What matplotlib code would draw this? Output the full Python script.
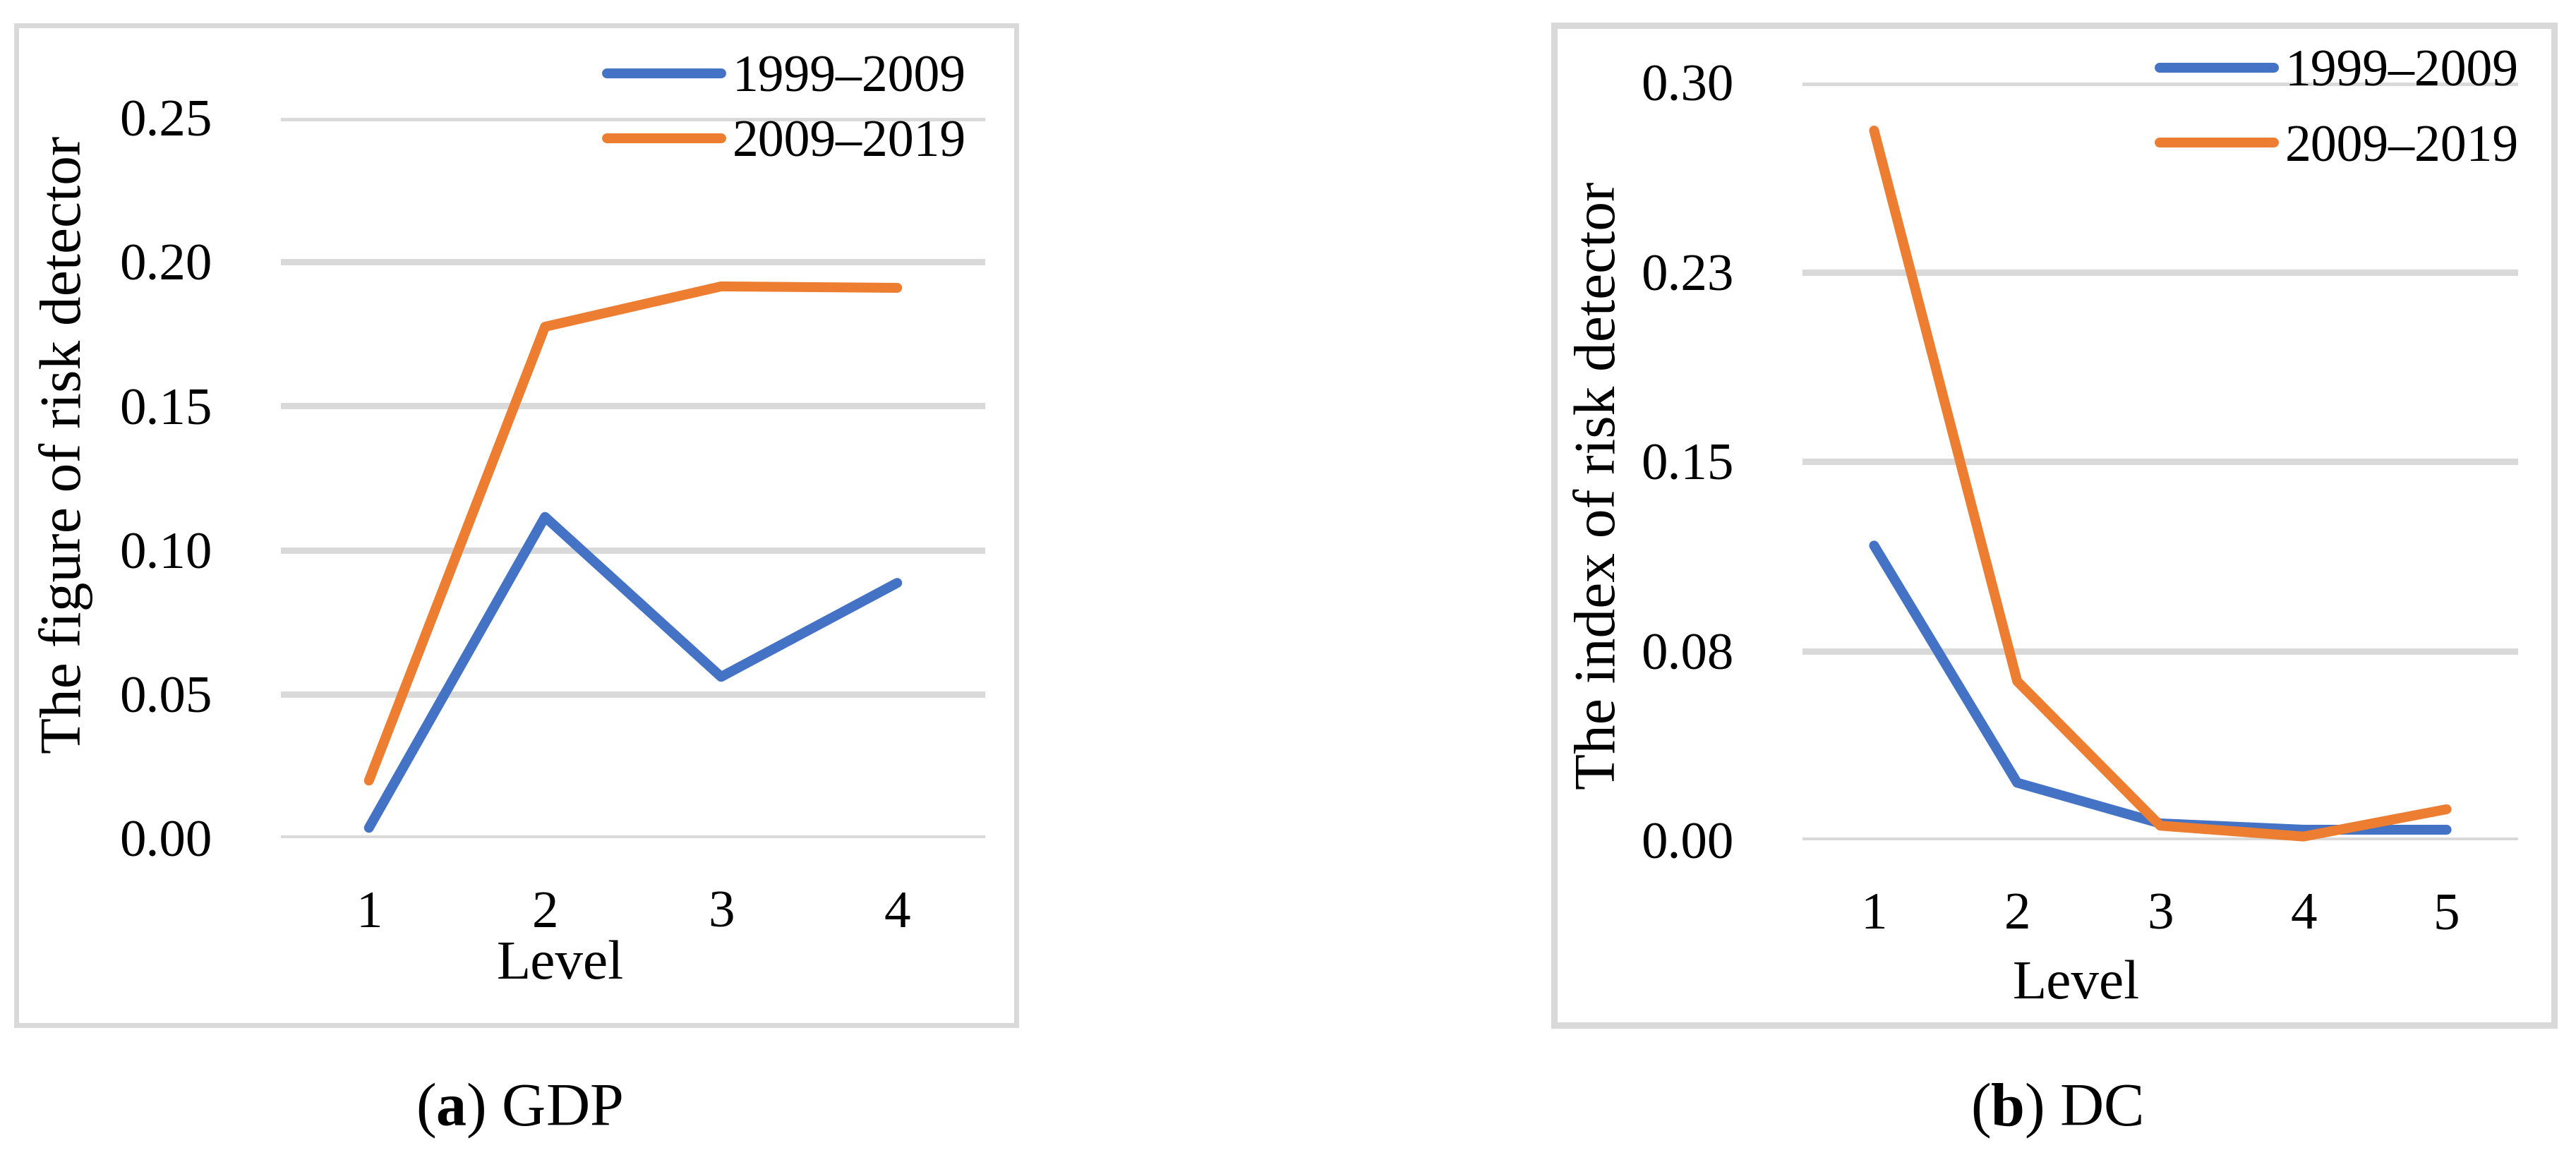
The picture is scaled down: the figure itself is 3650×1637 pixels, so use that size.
import matplotlib

matplotlib.use("Agg")
import matplotlib.pyplot as plt
from matplotlib.patches import Rectangle

W, H = 3650, 1637
DPI = 100

# data
levels_gdp = [1, 2, 3, 4]
gdp_1999_2009 = [0.0036, 0.1115, 0.0560, 0.0886]
gdp_2009_2019 = [0.0200, 0.1775, 0.1915, 0.1910]

levels_dc = [1, 2, 3, 4, 5]
dc_1999_2009 = [0.1167, 0.0228, 0.0067, 0.0042, 0.0042]
dc_2009_2019 = [0.2810, 0.0630, 0.0058, 0.0015, 0.0123]

series_labels = ["1999–2009", "2009–2019"]

gdp_yticks = [0.0, 0.05, 0.10, 0.15, 0.20, 0.25]
gdp_yticklabels = ["0.00", "0.05", "0.10", "0.15", "0.20", "0.25"]
dc_yticks = [0.0, 0.075, 0.15, 0.225, 0.30]
dc_yticklabels = ["0.00", "0.08", "0.15", "0.23", "0.30"]

BLUE = "#4472C4"
ORANGE = "#ED7D31"
GRAY = "#D9D9D9"
FS = 54

plt.rcParams["font.family"] = ["Liberation Serif", "DejaVu Serif"]
plt.rcParams["mathtext.fontset"] = "custom"
plt.rcParams["mathtext.rm"] = "Liberation Serif"
plt.rcParams["mathtext.bf"] = "Liberation Serif:bold"


def px(v):
    return v * 72 / DPI


def add_axes_px(fig, left, top, right, bottom):
    return fig.add_axes([left / W, 1 - bottom / H, (right - left) / W, (bottom - top) / H])


def add_frame(fig, x0, y0, x1, y1, lw):
    fig.patches.append(
        Rectangle((x0 / W, 1 - y1 / H), (x1 - x0) / W, (y1 - y0) / H,
                  transform=fig.transFigure, fill=False, ec=GRAY, lw=px(lw))
    )


def draw_panel(fig, box, levels, s1, s2, yticks, yticklabels, ylabel,
               xlabel_x, xlabel_y, ylabel_x, ylabel_y, leg_right, leg_top, leg_spacing):
    left, top, right, bottom = box
    ax = add_axes_px(fig, left, top, right, bottom)
    ax.plot(levels, s1, color=BLUE, lw=px(14), solid_capstyle="round",
            solid_joinstyle="round", label=series_labels[0], clip_on=False, zorder=3)
    ax.plot(levels, s2, color=ORANGE, lw=px(14), solid_capstyle="round",
            solid_joinstyle="round", label=series_labels[1], clip_on=False, zorder=4)
    ax.set_xlim(levels[0] - 0.5, levels[-1] + 0.5)
    ax.set_ylim(yticks[0], yticks[-1])
    ax.set_xticks(levels)
    ax.set_xticklabels([str(v) for v in levels])
    ax.set_yticks(yticks)
    ax.set_yticklabels(yticklabels)
    ax.tick_params(axis="both", length=0, labelsize=FS)
    ax.tick_params(axis="y", pad=px(98))
    ax.tick_params(axis="x", pad=px(74))
    ax.grid(axis="y", color=GRAY, lw=px(9))
    ax.set_axisbelow(True)
    for s in ax.spines.values():
        s.set_visible(False)
    ax.patch.set_alpha(0)

    h = bottom - top
    w = right - left
    ax.set_xlabel("Level", fontsize=57, va="center")
    ax.xaxis.set_label_coords((xlabel_x - left) / w, (bottom - xlabel_y) / h)
    ax.set_ylabel(ylabel, fontsize=60, va="center")
    ax.yaxis.set_label_coords((ylabel_x - left) / w, (bottom - ylabel_y) / h)

    ax.legend(loc="upper right", bbox_to_anchor=(leg_right / W, 1 - leg_top / H),
              bbox_transform=fig.transFigure, frameon=False, fontsize=53,
              borderpad=0, borderaxespad=0, handlelength=2.2, handletextpad=0.22,
              labelspacing=leg_spacing)
    return ax


fig = plt.figure(figsize=(W / DPI, H / DPI), dpi=DPI)

add_frame(fig, 22.5, 35.5, 1439.5, 1452.5, 7)
add_frame(fig, 2201.5, 35.5, 3618.5, 1452.5, 9)

draw_panel(fig, (398, 167, 1396, 1188), levels_gdp, gdp_1999_2009, gdp_2009_2019,
           gdp_yticks, gdp_yticklabels, "The figure of risk detector",
           794, 1368, 93, 630, 1369, 78, 0.33)
draw_panel(fig, (2554, 117, 3568, 1191), levels_dc, dc_1999_2009, dc_2009_2019,
           dc_yticks, dc_yticklabels, "The index of risk detector",
           2942, 1396, 2268, 688, 3569, 70, 0.53)

fig.text(735 / W, 1 - 1574 / H, r"($\mathbf{a}$) GDP", fontsize=62, ha="center", va="center")
fig.text(2914 / W, 1 - 1574 / H, r"($\mathbf{b}$) DC", fontsize=62, ha="center", va="center")

fig.savefig("out.png", dpi=DPI)
